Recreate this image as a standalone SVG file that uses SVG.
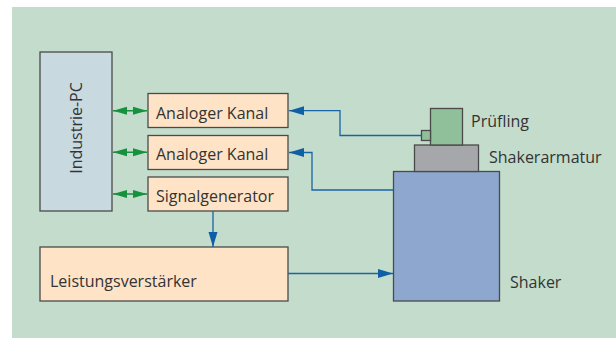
<svg xmlns="http://www.w3.org/2000/svg" width="616" height="338" viewBox="0 0 616 338">
<style>
.box{stroke:#4a4a4a;stroke-width:1.3}
.orange{fill:#fee3c6}
.t{font-family:"Open Sans","Liberation Sans",sans-serif;font-size:16px;fill:#333}
.blue{fill:none;stroke:#1a63a6;stroke-width:1.3}
.green{fill:none;stroke:#16913d;stroke-width:1.5}
</style>
<defs>
<marker id="ab" markerUnits="userSpaceOnUse" markerWidth="16" markerHeight="10" refX="15" refY="5" orient="auto">
<path d="M0,0.5 L15,5 L0,9.5 Z" fill="#0f5fa6"/>
</marker>
<marker id="ag" markerUnits="userSpaceOnUse" markerWidth="15" markerHeight="10" refX="14" refY="5" orient="auto-start-reverse">
<path d="M0,1 L14,5 L0,9 Z" fill="#16913d"/>
</marker>
</defs>
<rect x="12" y="7" width="604" height="331" fill="#c4dccb"/>
<g id="industrie-pc">
<rect class="box" x="40" y="52" width="72" height="159" fill="#c8d9e0"/>
<text class="t" transform="translate(82,128) rotate(-90)" text-anchor="middle">Industrie-PC</text>
</g>
<g id="kanal1">
<rect class="box orange" x="148" y="93.5" width="140" height="34"/>
<text class="t" x="156" y="119">Analoger Kanal</text>
</g>
<g id="kanal2">
<rect class="box orange" x="148" y="135.5" width="140" height="34"/>
<text class="t" x="156" y="160">Analoger Kanal</text>
</g>
<g id="signalgenerator">
<rect class="box orange" x="148" y="177" width="140" height="34"/>
<text class="t" x="156" y="201.5">Signalgenerator</text>
</g>
<g id="leistungsverstaerker">
<rect class="box orange" x="40" y="247" width="248" height="54"/>
<text class="t" x="50" y="287">Leistungsverstärker</text>
</g>
<g id="shaker">
<rect class="box" x="393.5" y="171.5" width="106" height="129.5" fill="#8ea7cf"/>
<text class="t" x="510" y="288">Shaker</text>
</g>
<g id="shakerarmatur">
<rect class="box" x="414.5" y="145" width="64" height="26.5" fill="#a6a7aa"/>
<text class="t" x="489" y="163">Shakerarmatur</text>
</g>
<g id="pruefling">
<rect class="box" x="430.5" y="108.5" width="32" height="36.5" fill="#8fc09a"/>
<rect class="box" x="421.5" y="130.5" width="9" height="10" fill="#8fc09a"/>
<text class="t" x="471" y="127">Prüfling</text>
</g>
<g id="connectors">
<path class="green" d="M113,110.7 H147" marker-start="url(#ag)" marker-end="url(#ag)"/>
<path class="green" d="M113,152.3 H147" marker-start="url(#ag)" marker-end="url(#ag)"/>
<path class="green" d="M113,194 H147" marker-start="url(#ag)" marker-end="url(#ag)"/>
<path class="blue" d="M421.5,135.5 H340 V110.7 H289" marker-end="url(#ab)"/>
<path class="blue" d="M393.5,190 H312 V152.5 H289" marker-end="url(#ab)"/>
<path class="blue" d="M213,211 V247" marker-end="url(#ab)"/>
<path class="blue" d="M288,273.5 H393" marker-end="url(#ab)"/>
</g>
</svg>
